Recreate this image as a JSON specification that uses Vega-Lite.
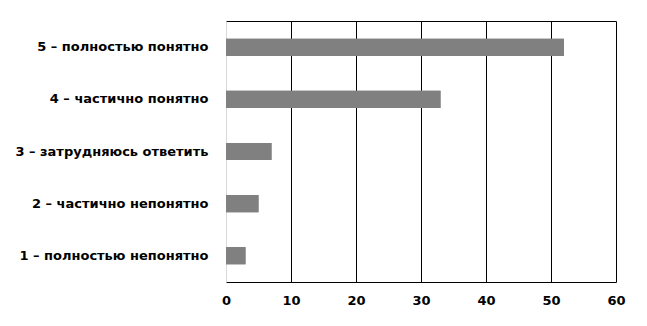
{
  "$schema": "https://vega.github.io/schema/vega-lite/v6.json",
  "autosize": {"type": "none"},
  "width": 390,
  "height": 261,
  "padding": {"left": 226, "top": 21, "right": 31, "bottom": 44},
  "background": "white",
  "config": {
    "view": {"stroke": null},
    "font": "DejaVu Sans"
  },
  "data": {
    "values": [
      {"answer": "5 – полностью понятно", "value": 52},
      {"answer": "4 – частично понятно", "value": 33},
      {"answer": "3 – затрудняюсь ответить", "value": 7},
      {"answer": "2 – частично непонятно", "value": 5},
      {"answer": "1 – полностью непонятно", "value": 3}
    ]
  },
  "layer": [
    {
      "mark": {"type": "bar", "color": "#808080"},
      "encoding": {
        "y": {
          "field": "answer", "type": "nominal", "sort": null,
          "scale": {"paddingInner": 0.67, "paddingOuter": 0.34},
          "axis": {
            "title": null, "ticks": false, "domain": true, "domainColor": "#d9d9d9",
            "labelPadding": 18, "labelFontSize": 13, "labelFontWeight": "bold",
            "labelColor": "black", "labelLimit": 300
          }
        },
        "x": {
          "field": "value", "type": "quantitative",
          "scale": {"domain": [0, 60], "nice": false},
          "axis": {
            "title": null, "values": [0, 10, 20, 30, 40, 50, 60], "ticks": false,
            "domainColor": "black", "gridColor": "black", "gridOpacity": 1,
            "labelPadding": 12, "labelFontSize": 13, "labelFontWeight": "bold",
            "labelColor": "black", "labelFlush": false
          }
        }
      }
    },
    {
      "mark": {"type": "bar", "color": "#808080"},
      "encoding": {
        "y": {"field": "answer", "type": "nominal", "sort": null},
        "x": {
          "field": "value", "type": "quantitative",
          "axis": {
            "orient": "top", "title": null, "labels": false, "ticks": false,
            "grid": false, "domainColor": "black"
          }
        }
      }
    }
  ],
  "resolve": {"axis": {"x": "independent"}}
}
